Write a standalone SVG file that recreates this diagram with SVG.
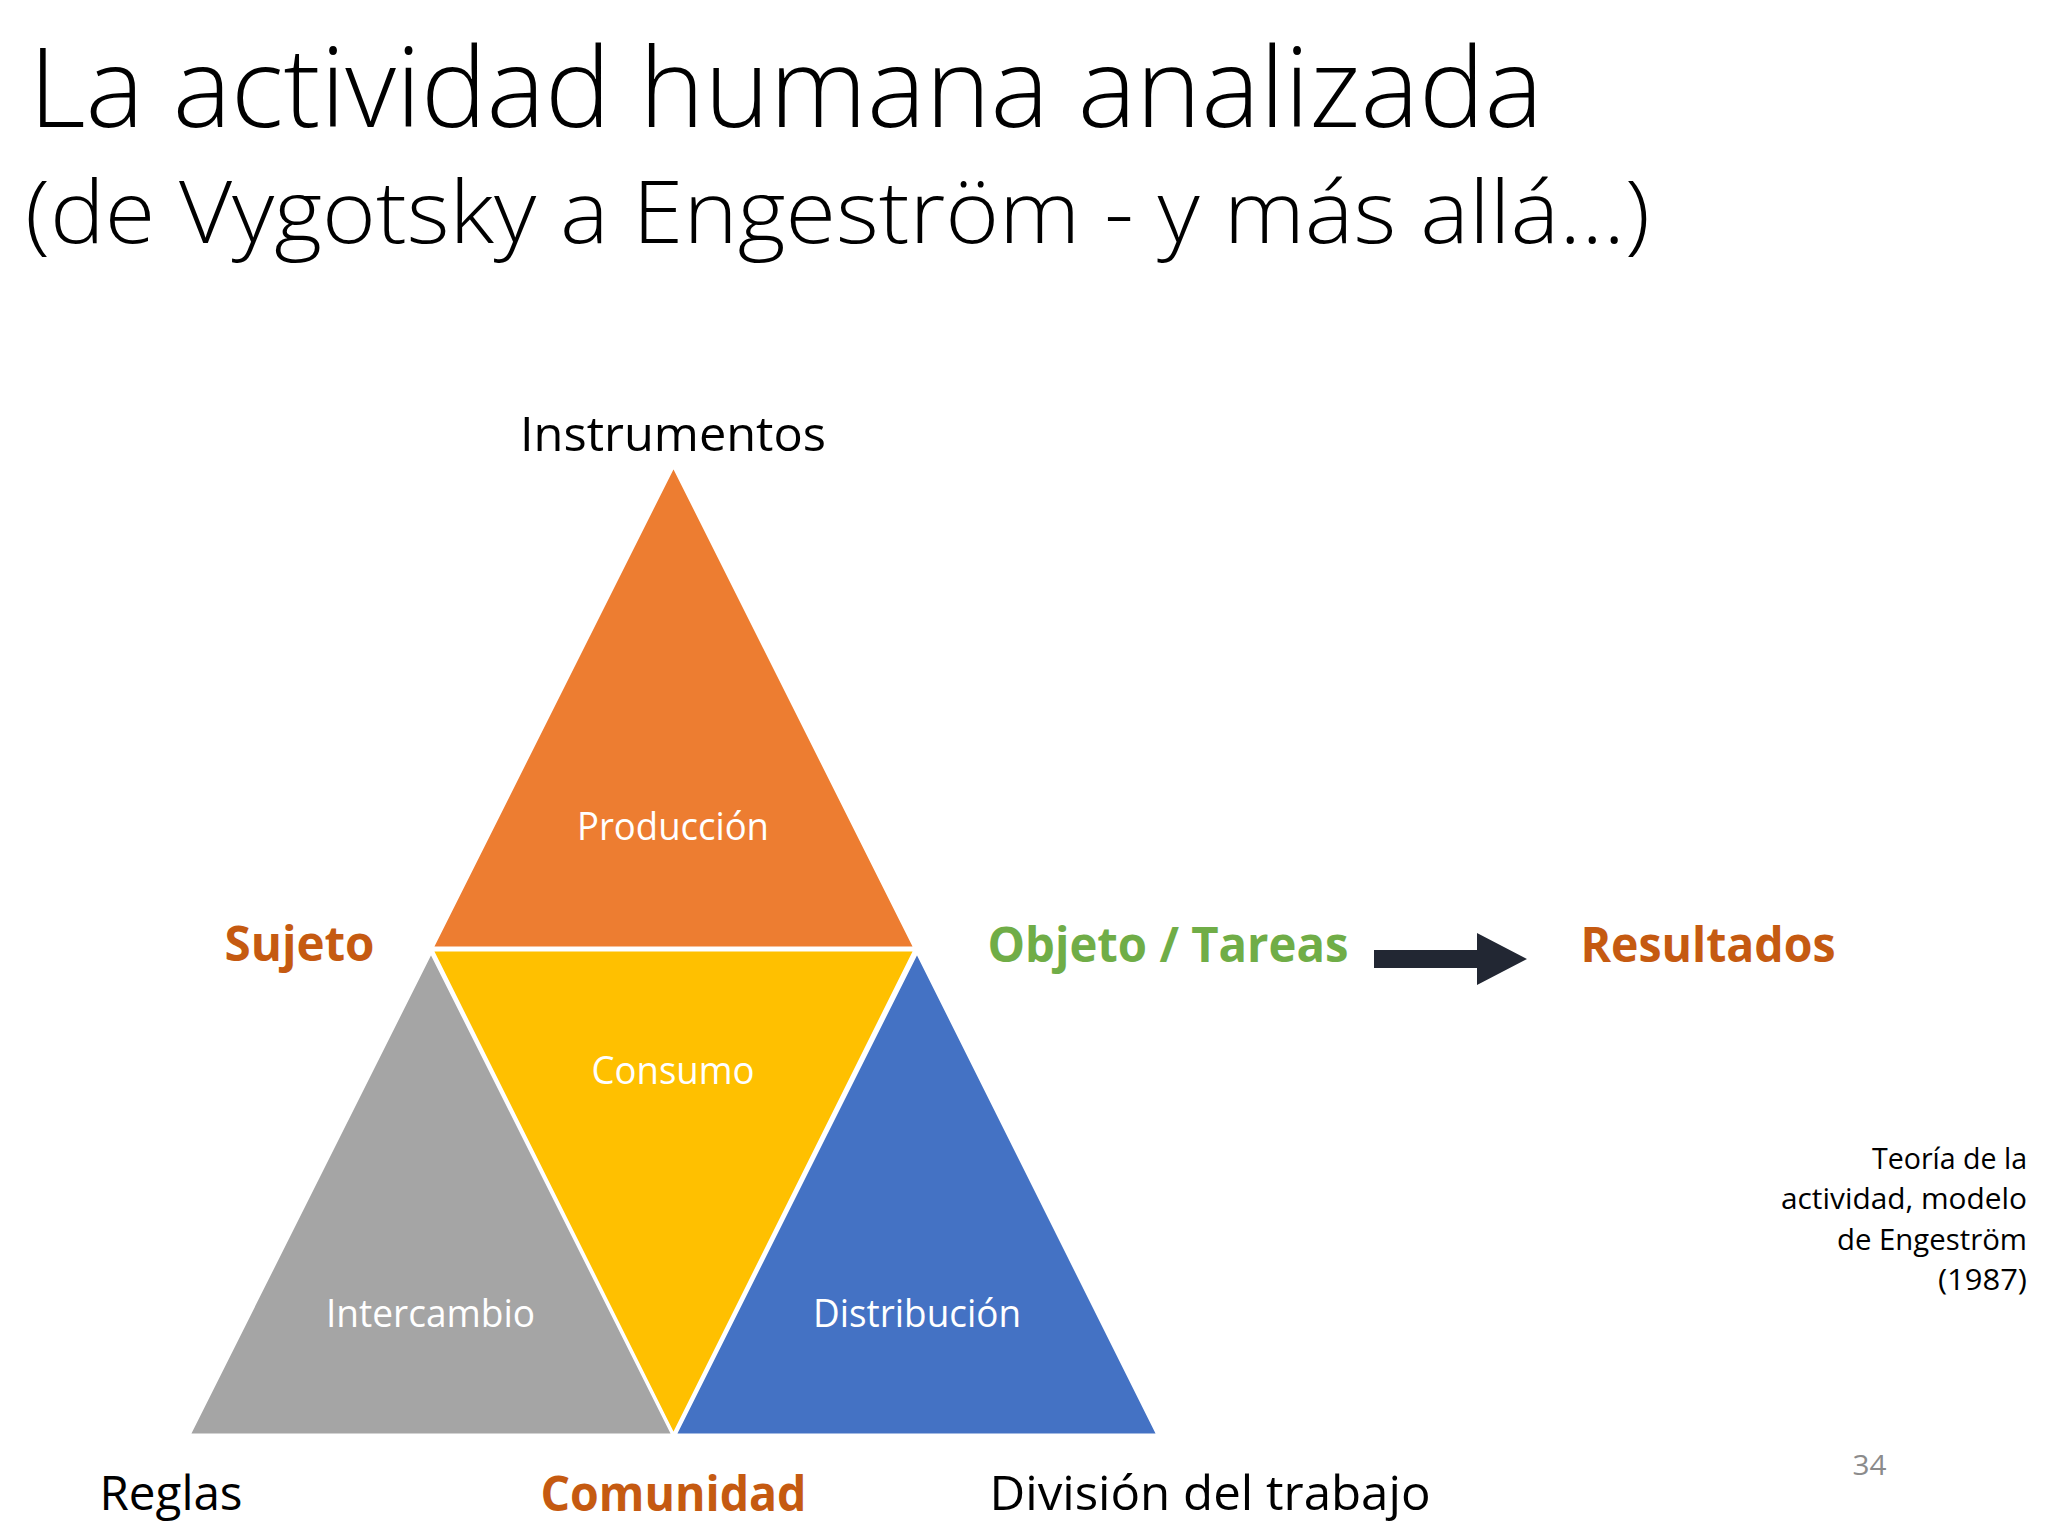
<svg xmlns="http://www.w3.org/2000/svg" width="2048" height="1536" viewBox="0 0 2048 1536">
<style>
text{font-family:"Open Sans","Noto Sans","DejaVu Sans",sans-serif}
.title{font-weight:300;fill:#000}
.lbl{font-size:48px;fill:#000;text-anchor:middle}
.blbl{font-size:48px;font-weight:700;text-anchor:middle}
.in{font-size:38px;fill:#fff;text-anchor:middle}
.tri{stroke:#fff;stroke-width:3;stroke-linejoin:miter}
.note{font-size:29.5px;fill:#000;text-anchor:end}
</style>
<rect width="2048" height="1536" fill="#fff"/>
<g id="title">
<text class="title" x="786" y="127" font-size="111" text-anchor="middle" textLength="1514" lengthAdjust="spacingAndGlyphs">La actividad humana analizada</text>
<text class="title" x="837.5" y="243" font-size="87" text-anchor="middle" textLength="1625" lengthAdjust="spacingAndGlyphs">(de Vygotsky a Engeström - y más allá…)</text>
</g>
<g id="produccion">
<polygon class="tri" points="673.5,466 432,948 915,948" fill="#ED7D31"/>
<text class="in" x="673" y="840" textLength="192" lengthAdjust="spacingAndGlyphs">Producción</text>
</g>
<g id="consumo">
<polygon class="tri" points="432,950 915,950 673.5,1435" fill="#FFC000"/>
<text class="in" x="673" y="1084" textLength="163" lengthAdjust="spacingAndGlyphs">Consumo</text>
</g>
<g id="intercambio">
<polygon class="tri" points="431,952 189,1435 673,1435" fill="#A5A5A5"/>
<text class="in" x="430.5" y="1327" textLength="209" lengthAdjust="spacingAndGlyphs">Intercambio</text>
</g>
<g id="distribucion">
<polygon class="tri" points="917,952 675,1435 1158,1435" fill="#4472C4"/>
<text class="in" x="917" y="1327" textLength="208" lengthAdjust="spacingAndGlyphs">Distribución</text>
</g>
<g id="instrumentos">
<text class="lbl" x="673" y="451" textLength="306" lengthAdjust="spacingAndGlyphs">Instrumentos</text>
</g>
<g id="sujeto">
<text class="blbl" x="299.5" y="961" fill="#C55A11" textLength="150" lengthAdjust="spacingAndGlyphs">Sujeto</text>
</g>
<g id="objeto">
<text class="blbl" x="1168" y="962" fill="#70AD47" textLength="361" lengthAdjust="spacingAndGlyphs">Objeto / Tareas</text>
</g>
<g id="resultados">
<text class="blbl" x="1708" y="962" fill="#C55A11" textLength="255" lengthAdjust="spacingAndGlyphs">Resultados</text>
</g>
<g id="reglas">
<text class="lbl" x="171" y="1510" font-size="51" textLength="143" lengthAdjust="spacingAndGlyphs">Reglas</text>
</g>
<g id="comunidad">
<text class="blbl" x="673.5" y="1511" font-size="51" fill="#C55A11" textLength="266" lengthAdjust="spacingAndGlyphs">Comunidad</text>
</g>
<g id="division">
<text class="lbl" x="1210" y="1510" font-size="51" textLength="441" lengthAdjust="spacingAndGlyphs">División del trabajo</text>
</g>
<g id="connectors">
<path d="M1374,950 H1477 V933 L1527,959 L1477,985 V968 H1374 Z" fill="#222733"/>
</g>
<g id="nota">
<text class="note" x="2027" y="1169" textLength="155" lengthAdjust="spacingAndGlyphs">Teoría de la</text>
<text class="note" x="2027" y="1209" textLength="246" lengthAdjust="spacingAndGlyphs">actividad, modelo</text>
<text class="note" x="2027" y="1250" textLength="190" lengthAdjust="spacingAndGlyphs">de Engeström</text>
<text class="note" x="2027" y="1290" textLength="89" lengthAdjust="spacingAndGlyphs">(1987)</text>
</g>
<g id="pagina">
<text x="1869.5" y="1475" font-size="28" fill="#8B8B8B" text-anchor="middle" textLength="34" lengthAdjust="spacingAndGlyphs">34</text>
</g>
</svg>
